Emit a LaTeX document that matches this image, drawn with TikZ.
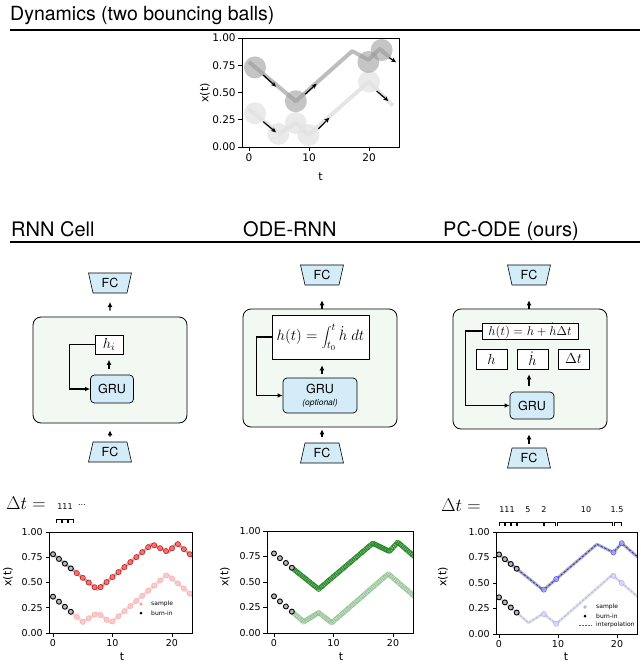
\documentclass[tikz,border=0pt]{standalone}
\usepackage{fix-cm}
\usepackage{fontspec}
\setmainfont{TeX Gyre Heros}
\newfontfamily\mpl{DejaVu Sans}
\usetikzlibrary{shapes.geometric,arrows.meta}
\definecolor{fcblue}{HTML}{D3ECF8}
\definecolor{cellbg}{HTML}{F2F8F2}
\definecolor{mgreen}{HTML}{2CA02C}
\definecolor{dgreen}{HTML}{1F7A1F}
\definecolor{lgreen}{HTML}{9CD29C}
\newcommand\fsz[1]{\fontsize{#1}{#1}\selectfont}
\newcommand\mplaxes[4]{%
  \draw[line width=0.7pt] (#1,0) rectangle (#2,1);
  \foreach \v/\l [count=\i] in {0/0.00,0.25/0.25,0.5/0.50,0.75/0.75,1/1.00}{%
    \draw[line width=0.6pt] (#1,\v) -- ++(-3.5pt,0)
      node[anchor=east, inner sep=0pt, xshift=-2.5pt, font=\mpl\fsz{#3}] (#4y\i) {\l};}
  \foreach \v [count=\i] in {0,10,20}{%
    \draw[line width=0.6pt] (\v,0) -- ++(0,-3.5pt)
      node[anchor=north, inner sep=0pt, yshift=-2.5pt, font=\mpl\fsz{#3}] (#4x\i) {\v};}
}
\begin{document}
\begin{tikzpicture}[x=1pt,y=-1pt,
 declare function={
  ftop(\t)=(\t<7.5) ? (0.78-0.0467*\t) : ((\t<16.6) ? (0.43+0.04945*(\t-7.5)) : ((\t<19.4) ? (0.88-0.02857*(\t-16.6)) : ((\t<20.8) ? (0.80+0.0643*(\t-19.4)) : (0.89-0.05*(\t-20.8)))));
  fbot(\t)=(\t<5) ? (0.36-0.05*\t) : ((\t<7.5) ? (0.11+0.036*(\t-5)) : ((\t<9.7) ? (0.20-0.04545*(\t-7.5)) : ((\t<19.2) ? (0.10+0.05053*(\t-9.7)) : (0.58-0.05*(\t-19.2)))));
 },
 title/.style={font=\fsz{19.5}, anchor=base west, inner sep=0pt},
 fcup/.style={trapezium, trapezium angle=77, trapezium stretches=true, minimum width=43pt, minimum height=20pt, draw, line width=0.6pt, fill=fcblue, font=\fsz{12.5}, inner sep=0pt, shape border rotate=180},
 fcdown/.style={fcup, shape border rotate=0},
 cell/.style={draw, line width=0.8pt, rounded corners=8pt, fill=cellbg, inner sep=0pt},
 grubox/.style={draw, line width=0.7pt, rounded corners=4pt, fill=fcblue, inner sep=0pt, font=\fsz{12.5}},
 mbox/.style={draw, line width=0.7pt, fill=white, inner sep=0pt, font=\fsz{14.5}},
 arr/.style={line width=1.3pt, -{Latex[length=5pt,width=5pt]}},
 fb/.style={line width=1.4pt, -{Latex[length=5pt,width=4.5pt]}},
 parr/.style={line width=1.2pt, -{Stealth[length=5pt,width=4.5pt]}},
 gtop/.style={line width=3pt, gray!55, line join=round},
 gbot/.style={line width=3pt, gray!22, line join=round},
 burn/.style={fill=gray!55, draw=black, line width=0.9pt},
 rtop/.style={fill=red!60, draw=red!75!black, line width=0.6pt, opacity=0.85},
 rbot/.style={fill=red!22, draw=red!35, line width=0.6pt, opacity=0.85},
 gtopm/.style={fill=mgreen, draw=dgreen, line width=0.6pt, fill opacity=0.35, draw opacity=0.85},
 gbotm/.style={fill=lgreen, draw=lgreen!85!black, line width=0.6pt, fill opacity=0.3, draw opacity=0.6},
 btopm/.style={fill=blue!35, draw=blue!75, line width=0.6pt, opacity=0.8},
 bbotm/.style={fill=blue!15, draw=blue!35, line width=0.6pt, opacity=0.8},
 lab/.style={font=\mpl\fsz{11}, inner sep=0pt},
 leg/.style={font=\mpl\fsz{6}, anchor=west, inner sep=0pt},
 dtl/.style={font=\mpl\fsz{8}, inner sep=0pt},
 brk/.style={line width=0.6pt},
]
\useasboundingbox (0,0) rectangle (640,664);

% ---------------- titles ----------------
\node[title] (t1) at (10,20) {Dynamics (two bouncing balls)};
\draw[line width=2pt] (10,30) -- (640,30);
\node[title, font=\fsz{20}] (t2) at (11,236) {RNN Cell};
\node[title, font=\fsz{20}] (t3) at (243,236) {ODE-RNN};
\node[title, font=\fsz{20}] (t4) at (443,236) {PC-ODE (ours)};
\draw[line width=2pt] (10,242) -- (640,242);

% ---------------- top plot ----------------
\begin{scope}[shift={(249,147)},x=6pt,y=109pt]
  \draw[line width=4pt, gray!20, line join=round] (0,0.35) -- (5,0.12) -- (7.8,0.22) -- (9.9,0.11) -- (20,0.60) -- (24,0.38);
  \draw[line width=4pt, gray!52, line join=round] (0,0.78) -- (7.8,0.42) -- (17.2,0.88) -- (19.9,0.80) -- (21.8,0.90) -- (23.5,0.82);
  \foreach \a/\b in {1/0.31, 4.9/0.12, 7.8/0.22, 9.9/0.11, 20/0.60}
    \fill[gray!22, opacity=0.75] (\a,\b) circle[radius=11pt];
  \foreach \a/\b in {1/0.73, 7.8/0.42, 19.9/0.78, 22.1/0.89}
    \fill[gray!75, opacity=0.6] (\a,\b) circle[radius=11pt];
  \mplaxes{-1.17}{25}{10.5}{tp}
\end{scope}
\draw[parr] (263.3,75) -- (276,86.7);
\draw[parr] (305,94.3) -- (316.7,83.7);
\draw[parr] (263.3,121.7) -- (276,132.3);
\draw[parr] (318.3,129) -- (329.3,117.7);
\draw[parr] (389.3,57.7) -- (396,62.3);
\draw[parr] (376.7,91) -- (388.3,101);
\node[lab, rotate=90] (tpyl) at (205,93) {x(t)};
\node[lab] (tpxl) at (320.5,177) {t};

% ---------------- RNN cell ----------------
\node[cell, minimum width=154pt, minimum height=106pt] (cell1) at (110,370) {};
\node[fcup] (fc1t) at (110,283) {FC};
\node[fcdown] (fc1b) at (110,452) {FC};
\node[mbox, minimum width=28pt, minimum height=19pt] (hi) at (109,344.5) {$h_i$};
\node[grubox, minimum width=43pt, minimum height=28pt] (gru1) at (112,389) {GRU};
\draw[arr, shorten <=6pt, shorten >=8.7pt] (cell1.north) -- (fc1t.south);
\draw[arr, shorten <=5pt, shorten >=7pt] (fc1b.north) -- (cell1.south);
\draw[arr, shorten <=6pt, shorten >=5.5pt] (gru1.north -| hi.south) -- (hi.south);
\draw[fb] (hi.west) -- ++(-25,0) |- (gru1.west);

% ---------------- ODE-RNN ----------------
\node[cell, minimum width=154pt, minimum height=118pt] (cell2) at (320,368) {};
\node[fcup] (fc2t) at (322,275) {FC};
\node[fcdown] (fc2b) at (322,453) {FC};
\node[mbox, minimum width=97pt, minimum height=44pt, font=\fsz{15}] (int) at (320.5,337) {$\displaystyle h(t)=\int_{t_0}^{t}\dot h\;dt$};
\node[grubox, minimum width=74pt, minimum height=35pt, align=center] (gru2) at (320,395.5) {GRU\\[-1pt]{\fsz{8.5}\itshape (optional)}};
\draw[arr, shorten <=0pt, shorten >=15pt] (cell2.north -| fc2t.south) -- (fc2t.south);
\draw[arr, shorten <=6pt, shorten >=2pt] (fc2b.north) -- (fc2b.north |- cell2.south);
\draw[arr, shorten <=4pt, shorten >=6pt] (gru2.north -| fc2t.south) -- (int.south -| fc2t.south);
\draw[fb] (int.west) -- ++(-15,0) |- (gru2.west);

% ---------------- PC-ODE ----------------
\node[cell, minimum width=154pt, minimum height=120pt] (cell3) at (530,369) {};
\node[fcup] (fc3t) at (529,275) {FC};
\node[fcdown] (fc3b) at (529,458) {FC};
\node[mbox, minimum width=96pt, minimum height=16pt, font=\fsz{12.8}] (form) at (530,331) {$h(t)=h+\dot h\Delta t$};
\node[mbox, minimum width=31pt, minimum height=20pt] (hb) at (491.5,359) {$h$};
\node[mbox, minimum width=31pt, minimum height=20pt] (hd) at (532.5,359) {$\dot h$};
\node[mbox, minimum width=31pt, minimum height=20pt] (dtb) at (573.5,359) {$\Delta t$};
\node[grubox, minimum width=44pt, minimum height=27pt] (gru3) at (532,405.5) {GRU};
\draw[arr, shorten <=0pt, shorten >=15pt] (cell3.north -| fc3t.south) -- (fc3t.south);
\draw[arr, shorten <=4pt, shorten >=5pt] (fc3b.north) -- (fc3b.north |- cell3.south);
\draw[arr, shorten <=6pt, shorten >=5pt] (gru3.north -| fc3t.south) -- (hd.south -| fc3t.south);
\draw[fb] (form.west) -- ++(-16,0) |- (gru3.west);

% ---------------- bottom plot 1 (RNN) ----------------
\node[font=\fsz{18.5}, inner sep=0pt] (dt1) at (26,503) {$\Delta t =$};
\node[dtl] (d1a) at (65,507) {111};
\node[dtl] (d1b) at (82,505) {...};
\foreach \i in {0,1,2}
  \draw[brk] ({56.5+6*\i},523) -- ({56.5+6*\i},519) -- ({61.5+6*\i},519) -- ({61.5+6*\i},523);
\begin{scope}[shift={(53,633)},x=5.95pt,y=101pt]
  \begin{scope}
    \clip (-0.67,0) rectangle (23.5,1);
    \draw[gbot] (0,0.36) -- (5,0.11) -- (7.5,0.2) -- (9.7,0.1) -- (19.2,0.58) -- (25,0.29);
    \draw[gtop] (0,0.78) -- (7.5,0.43) -- (16.6,0.88) -- (19.4,0.80) -- (20.8,0.89) -- (25,0.68);
    \foreach \t in {4,...,24}{
      \path[rbot] (\t,{fbot(\t)}) circle[radius=2.6pt];
      \path[rtop] (\t,{ftop(\t)}) circle[radius=2.6pt];}
    \foreach \t in {0,...,3}{
      \path[burn] (\t,{fbot(\t)}) circle[radius=2.5pt];
      \path[burn] (\t,{ftop(\t)}) circle[radius=2.5pt];}
  \end{scope}
  \mplaxes{-0.67}{23.5}{9.5}{pa}
\end{scope}
\fill[red!35] (141,604) circle[radius=1.8pt];
\node[leg] (l1a) at (151,604) {sample};
\fill[black] (141,613) circle[radius=1.5pt];
\node[leg] (l1b) at (151,613) {burn-in};
\node[lab, rotate=90] (payl) at (8,577) {x(t)};
\node[lab] (paxl) at (122,657) {t};

% ---------------- bottom plot 2 (ODE-RNN) ----------------
\begin{scope}[shift={(274,633)},x=5.95pt,y=102pt]
  \begin{scope}
    \clip (-1.18,0) rectangle (23.5,1);
    \foreach \t in {3.25,3.5,...,25}{
      \path[gbotm] (\t,{fbot(\t)}) circle[radius=2.4pt];}
    \foreach \t in {3.25,3.5,...,25}{
      \path[gtopm] (\t,{ftop(\t)}) circle[radius=2.4pt];}
    \foreach \t in {0,...,3}{
      \path[burn] (\t,{fbot(\t)}) circle[radius=2.5pt];
      \path[burn] (\t,{ftop(\t)}) circle[radius=2.5pt];}
  \end{scope}
  \mplaxes{-1.18}{23.5}{9.5}{pb}
\end{scope}
\node[lab, rotate=90] (pbyl) at (225,577) {x(t)};
\node[lab] (pbxl) at (341,657) {t};

% ---------------- bottom plot 3 (PC-ODE) ----------------
\node[font=\fsz{18.5}, inner sep=0pt] (dt3) at (461,505) {$\Delta t =$};
\node[dtl] (d3a) at (507,510) {111};
\node[dtl] (d3b) at (528,510) {5};
\node[dtl] (d3c) at (544,510) {2};
\node[dtl] (d3d) at (586,510) {10};
\node[dtl] (d3e) at (617,510) {1.5};
\foreach \a/\b in {0/1,1/2,2/3,3/7.6,7.6/9.7,9.7/19.4,19.4/20.8}
  \draw[brk] ({499+5.9*\a+0.7},526) -- ({499+5.9*\a+0.7},522) -- ({499+5.9*\b-0.7},522) -- ({499+5.9*\b-0.7},526);
\begin{scope}[shift={(499,634)},x=5.9pt,y=102pt]
  \begin{scope}
    \clip (-0.5,0) rectangle (23.5,1);
    \draw[gbot] (0,0.36) -- (5,0.11) -- (7.5,0.2) -- (9.7,0.1) -- (19.2,0.58) -- (25,0.29);
    \draw[line width=3pt, gray!62, line join=round] (0,0.78) -- (7.5,0.43) -- (16.6,0.88) -- (19.4,0.80) -- (20.8,0.89) -- (25,0.68);
    \draw[blue!30, line width=0.9pt, dash pattern=on 2.5pt off 1.5pt] (3,0.21) -- (5,0.11) -- (7.5,0.2) -- (9.7,0.1) -- (19.2,0.58) -- (25,0.29);
    \draw[blue!80, line width=0.9pt, dash pattern=on 2.5pt off 1.5pt] (1,{ftop(1)}) -- (7.5,0.43) -- (16.6,0.88) -- (19.4,0.80) -- (20.8,0.89) -- (25,0.68);
    \foreach \t in {7.6,9.7,19.4,20.8}{
      \path[bbotm] (\t,{fbot(\t)}) circle[radius=2.6pt];
      \path[btopm] (\t,{ftop(\t)}) circle[radius=2.6pt];}
    \foreach \t in {0,...,3}{
      \path[burn] (\t,{fbot(\t)}) circle[radius=2.5pt];
      \path[burn] (\t,{ftop(\t)}) circle[radius=2.5pt];}
  \end{scope}
  \mplaxes{-0.5}{23.5}{9.5}{pc}
\end{scope}
\fill[blue!30] (585,607) circle[radius=1.8pt];
\node[leg] (l3a) at (596,607) {sample};
\fill[black] (585,616) circle[radius=1.5pt];
\node[leg] (l3b) at (596,616) {burn-in};
\draw[blue!70, line width=0.8pt, dash pattern=on 2pt off 1pt] (579,625) -- (592,625);
\node[leg] (l3c) at (596,625) {interpolation};
\node[lab, rotate=90] (pcyl) at (443,577) {x(t)};
\node[lab] (pcxl) at (566,657) {t};
\end{tikzpicture}
\end{document}
